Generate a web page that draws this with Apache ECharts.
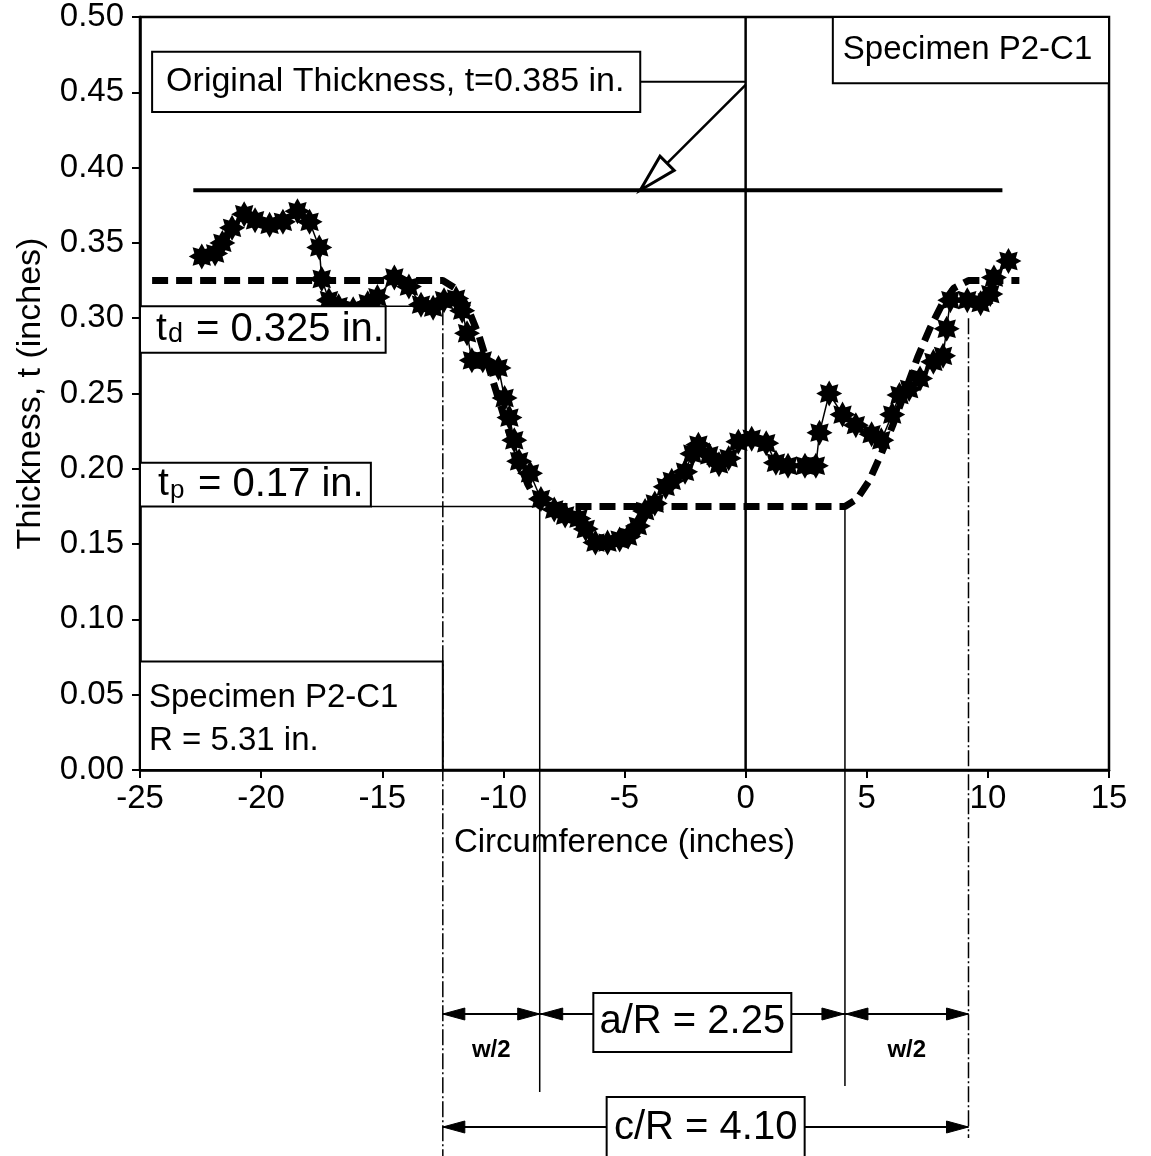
<!DOCTYPE html>
<html>
<head>
<meta charset="utf-8">
<title>Specimen P2-C1 thickness profile</title>
<script src="https://cdn.jsdelivr.net/npm/echarts@6.0.0/dist/echarts.min.js"></script>
<style>
  html, body { margin: 0; padding: 0; background: #fff; }
  #chart { width: 1151px; height: 1156px; }
</style>
</head>
<body>
<div id="chart"></div>
<script>
// measured profile: circumference position (in.) / wall thickness (in.)
var measuredX = [-22.45, -21.9, -21.6, -21.2, -20.7, -20.25, -19.65, -19.1, -18.5, -18.0,
                 -17.6, -17.5, -17.2, -16.8, -16.2, -15.6, -15.2, -14.5, -13.9, -13.4,
                 -12.9, -12.45, -11.95, -11.7, -11.5, -11.3, -10.85, -10.2, -9.95, -9.75,
                 -9.55, -9.35, -8.9, -8.45, -7.9, -7.45, -6.9, -6.6, -6.2, -5.7,
                 -5.2, -4.85, -4.45, -4.15, -3.75, -3.3, -3.05, -2.5, -2.2, -1.95,
                 -1.5, -1.1, -0.7, -0.3, 0.25, 0.85, 1.25, 1.75, 2.45, 2.9,
                 3.05, 3.45, 4.0, 4.55, 5.2, 5.6, 6.05, 6.35, 6.75, 7.2,
                 7.75, 8.15, 8.3, 8.45, 9.15, 9.7, 10.1, 10.25, 10.85];
var measuredT = [0.341, 0.343, 0.350, 0.360, 0.369, 0.365, 0.362, 0.364, 0.371, 0.364,
                 0.347, 0.326, 0.312, 0.308, 0.306, 0.310, 0.314, 0.327, 0.321, 0.309,
                 0.307, 0.312, 0.313, 0.305, 0.290, 0.272, 0.272, 0.267, 0.247, 0.234,
                 0.219, 0.205, 0.197, 0.180, 0.173, 0.169, 0.167, 0.160, 0.151, 0.151,
                 0.153, 0.155, 0.162, 0.172, 0.177, 0.188, 0.192, 0.198, 0.210, 0.216,
                 0.209, 0.203, 0.207, 0.218, 0.220, 0.217, 0.204, 0.202, 0.202, 0.202,
                 0.224, 0.250, 0.236, 0.229, 0.223, 0.219, 0.236, 0.249, 0.253, 0.260,
                 0.271, 0.275, 0.293, 0.312, 0.312, 0.310, 0.316, 0.327, 0.338];

// idealised profile (thick dashed line)
var idealX = [-24.5, -12.5, -12.0, -11.5, -11.0, -10.5, -10.0, -9.5, -9.0, -8.5,
              4.1, 4.6, 5.1, 5.6, 6.1, 6.6, 7.1, 7.6, 8.1, 8.6, 9.2, 11.3];
var idealT = [0.325, 0.325, 0.320, 0.308, 0.288, 0.262, 0.236, 0.211, 0.190, 0.175,
              0.175, 0.180, 0.192, 0.210, 0.230, 0.252, 0.274, 0.293, 0.309, 0.320, 0.325, 0.325];

// original wall thickness line
var originalX = [-22.8, 10.6];
var originalT = 0.385;

// tick labels
var xTickLabels = ['-25', '-20', '-15', '-10', '-5', '0', '5', '10', '15'];
var yTickLabels = ['0.00', '0.05', '0.10', '0.15', '0.20', '0.25', '0.30', '0.35', '0.40', '0.45', '0.50'];

// zone edges (w/2 | a | w/2) and where their guide lines start
var zoneX = [-12.5, -8.5, 4.1, 9.2];
var zoneTop = [0.306, 0.175, 0.175, 0.300];

var FONT = '"Liberation Sans", Arial, Helvetica, sans-serif';
var INK = '#000';

// 8-pointed star marker
function starPath(n, inner) {
    var pts = [];
    for (var i = 0; i < 2 * n; i++) {
        var a = Math.PI * i / n - Math.PI / 2;
        var r = i % 2 ? inner : 1;
        pts.push((r * Math.cos(a)).toFixed(3) + ' ' + (r * Math.sin(a)).toFixed(3));
    }
    return 'path://M' + pts.join(' L') + ' Z';
}

function pairs(xs, ys) {
    return xs.map(function (x, i) { return [x, ys[i]]; });
}

var myChart = echarts.init(document.getElementById('chart'));

var option = {
    backgroundColor: '#fff',
    animation: false,
    grid: {
        left: 140,
        top: 17,
        width: 969,
        height: 753,
        show: true,
        borderColor: INK,
        borderWidth: 2.5,
        backgroundColor: 'transparent',
        outerBoundsMode: 'none'
    },
    xAxis: {
        type: 'value',
        min: -25,
        max: 15,
        interval: 5,
        name: 'Circumference (inches)',
        nameLocation: 'middle',
        nameGap: 56,
        nameTextStyle: { fontFamily: FONT, fontSize: 33, color: INK },
        axisLine: { onZero: false, lineStyle: { color: INK, width: 2.5 } },
        axisTick: { length: 8, lineStyle: { color: INK, width: 2 } },
        axisLabel: {
            fontFamily: FONT, fontSize: 33, color: INK, margin: 12,
            showMinLabel: true, showMaxLabel: true,
            formatter: function (v, i) { return xTickLabels[i]; }
        },
        splitLine: { show: false }
    },
    yAxis: {
        type: 'value',
        min: 0,
        max: 0.5,
        interval: 0.05,
        name: 'Thickness, t (inches)',
        nameLocation: 'middle',
        nameGap: 92,
        nameRotate: 90,
        nameTextStyle: { fontFamily: FONT, fontSize: 34, color: INK },
        axisLine: { onZero: false, lineStyle: { color: INK, width: 2.5 } },
        axisTick: { length: 8, lineStyle: { color: INK, width: 2 } },
        axisLabel: {
            fontFamily: FONT, fontSize: 33, color: INK, margin: 16,
            showMinLabel: true, showMaxLabel: true,
            formatter: function (v, i) { return yTickLabels[i]; }
        },
        splitLine: { show: false }
    },
    series: [
        {
            name: 'Original thickness',
            type: 'line',
            data: originalX.map(function (x) { return [x, originalT]; }),
            symbol: 'none',
            lineStyle: { color: INK, width: 4 },
            silent: true
        },
        {
            name: 'x = 0',
            type: 'line',
            data: [[0, 0], [0, 0.5]],
            symbol: 'none',
            lineStyle: { color: INK, width: 2.5 },
            silent: true
        },
        {
            name: 'Idealised profile',
            type: 'line',
            data: pairs(idealX, idealT),
            symbol: 'none',
            lineStyle: { color: INK, width: 7, type: [16, 8], cap: 'butt' },
            silent: true
        },
        {
            name: 'Measured',
            type: 'line',
            data: pairs(measuredX, measuredT),
            symbol: starPath(8, 0.62),
            symbolSize: 26,
            itemStyle: { color: INK },
            lineStyle: { color: INK, width: 1.5 },
            z: 4,
            silent: true
        }
    ]
};
myChart.setOption(option);

// ---- annotations (boxes, arrows, zone guides) ----
function P(x, y) { return myChart.convertToPixel({ gridIndex: 0 }, [x, y]); }
function X(x) { return P(x, 0)[0]; }
function Y(y) { return P(0, y)[1]; }

var g = [];
function seg(x1, y1, x2, y2, w, dash) {
    g.push({ type: 'line', z: 100, silent: true,
        shape: { x1: x1, y1: y1, x2: x2, y2: y2 },
        style: { stroke: INK, lineWidth: w || 2, lineDash: dash || null } });
}
function box(x1, y1, x2, y2) {
    g.push({ type: 'rect', z: 99, silent: true,
        shape: { x: x1, y: y1, width: x2 - x1, height: y2 - y1 },
        style: { fill: '#fff', stroke: INK, lineWidth: 2 } });
}
function txt(x, y, s, size, align, weight, va) {
    g.push({ type: 'text', z: 101, silent: true, x: x, y: y,
        style: { text: s, font: (weight || 'normal') + ' ' + size + 'px ' + FONT, fill: INK,
                 align: align || 'left', verticalAlign: va || 'middle' } });
}
function head(tx, ty, dx, dy, len, half, hollow) {
    var bx = tx - dx * len, by = ty - dy * len;
    var nx = -dy, ny = dx;
    g.push({ type: 'polygon', z: 102, silent: true,
        shape: { points: [[tx, ty], [bx + nx * half, by + ny * half], [bx - nx * half, by - ny * half]] },
        style: { fill: hollow ? '#fff' : INK, stroke: INK, lineWidth: hollow ? 3 : 1 } });
}

var x0 = X(-25);

// "Original Thickness" label, leader and arrow
var ob = [P(-24.5, 0.477), P(-4.35, 0.437)];
box(ob[0][0], ob[0][1], ob[1][0], ob[1][1]);
txt(ob[0][0] + 14, (ob[0][1] + ob[1][1]) / 2, 'Original Thickness, t=0.385 in.', 34);
seg(ob[1][0], Y(0.457), X(0), Y(0.457), 2);
var aS = P(0, 0.455), aT = P(-4.35, originalT);
var adx = aT[0] - aS[0], ady = aT[1] - aS[1], al = Math.sqrt(adx * adx + ady * ady);
adx /= al; ady /= al;
seg(aS[0], aS[1], aT[0] - adx * 30, aT[1] - ady * 30, 2.5);
head(aT[0], aT[1], adx, ady, 38, 10, true);

// "Specimen P2-C1" (top right)
var sb = [P(3.6, 0.5), P(15, 0.456)];
box(sb[0][0], sb[0][1], sb[1][0], sb[1][1]);
txt(sb[0][0] + 10, (sb[0][1] + sb[1][1]) / 2, 'Specimen P2-C1', 33);

// zone guide lines
var L = zoneX.map(X);
var guideBottom = [1156, 1092, 1086, 1138];
for (var i = 0; i < 4; i++) {
    seg(L[i], Y(zoneTop[i]), L[i], guideBottom[i], 1.5, (i === 0 || i === 3) ? [16, 3, 2, 3] : null);
}

// t_d box
var tdTop = Y(0.308), tdBot = Y(0.277), tdRight = X(-14.86);
box(x0, tdTop, tdRight, tdBot);
seg(tdRight, tdTop, L[0], tdTop, 1.5);
var tdMid = (tdTop + tdBot) / 2;
txt(x0 + 16, tdMid, 't', 39);
txt(x0 + 28, tdMid + 5, 'd', 27);
txt(x0 + 56, tdMid, '= 0.325 in.', 40);

// t_p box
var tpTop = Y(0.204), tpBot = Y(0.175), tpRight = X(-15.47);
box(x0, tpTop, tpRight, tpBot);
seg(tpRight, tpBot, L[1], tpBot, 1.5);
var tpMid = (tpTop + tpBot) / 2;
txt(x0 + 18, tpMid, 't', 39);
txt(x0 + 30, tpMid + 6, 'p', 26);
txt(x0 + 58, tpMid, '= 0.17 in.', 40);

// "Specimen P2-C1 / R = 5.31 in." (bottom left)
box(x0, Y(0.072), L[0], Y(0));
txt(x0 + 9, Y(0.048), 'Specimen P2-C1', 33);
txt(x0 + 9, Y(0.0195), 'R = 5.31 in.', 33);

// dimension rows below the axis
var r1 = 1014, r2 = 1127, AH = 22, AW = 6;
seg(L[0], r1, L[1], r1, 2);
head(L[0], r1, -1, 0, AH, AW);
head(L[1], r1, 1, 0, AH, AW);
txt((L[0] + L[1]) / 2, 1050, 'w/2', 24, 'center', 'bold');

var ac = (L[1] + L[2]) / 2;
box(ac - 99, 993, ac + 99, 1052);
txt(ac, 1022, 'a/R = 2.25', 40, 'center');
seg(L[1], r1, ac - 99, r1, 2);
head(L[1] + 1, r1, -1, 0, AH, AW);
seg(ac + 99, r1, L[2], r1, 2);
head(L[2] - 1, r1, 1, 0, AH, AW);

seg(L[2], r1, L[3], r1, 2);
head(L[2] + 1, r1, -1, 0, AH, AW);
head(L[3], r1, 1, 0, AH, AW);
txt((L[2] + L[3]) / 2, 1050, 'w/2', 24, 'center', 'bold');

var cc = (L[0] + L[3]) / 2;
box(cc - 99, 1097, cc + 99, 1162);
txt(cc, 1128, 'c/R = 4.10', 40, 'center');
seg(L[0], r2, cc - 99, r2, 2);
head(L[0], r2, -1, 0, AH, AW);
seg(cc + 99, r2, L[3], r2, 2);
head(L[3], r2, 1, 0, AH, AW);

myChart.setOption({ graphic: g });
</script>
</body>
</html>
